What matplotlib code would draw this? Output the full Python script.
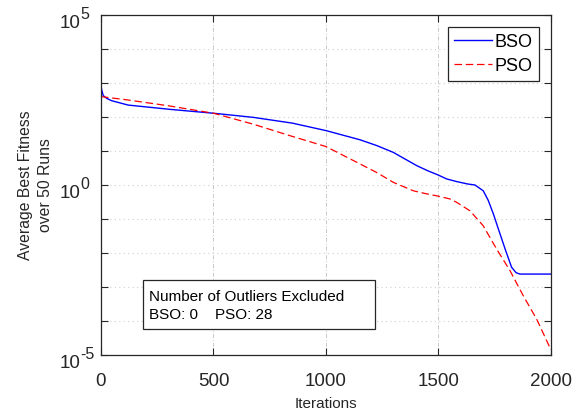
import matplotlib
matplotlib.use("Agg")
import matplotlib.pyplot as plt
from matplotlib.ticker import LogLocator, FixedLocator, NullFormatter
from matplotlib.patches import Rectangle

plt.rcParams.update({
    'font.family': ['Liberation Sans', 'DejaVu Sans'],
})

# data (iteration, average best fitness)
bso_iter = [0, 3, 10, 25, 47, 121, 314, 500, 676, 850, 1000, 1151, 1225, 1299, 1403,
            1452, 1500, 1536, 1581, 1630, 1662, 1699, 1721, 1744, 1766, 1796, 1825,
            1845, 1862, 2000]
bso_fit = [891, 631, 427, 355, 302, 224, 166, 129, 97.7, 66.1, 39.8, 21.4, 14.5, 9.12,
           3.72, 2.63, 1.95, 1.51, 1.26, 1.07, 1.00, 0.676, 0.355, 0.141, 0.0513,
           0.0132, 3.80e-3, 2.63e-3, 2.40e-3, 2.40e-3]

pso_iter = [0, 121, 299, 500, 676, 840, 1000, 1151, 1225, 1299, 1388, 1447, 1500, 1551,
            1581, 1640, 1699, 1758, 1818, 1877, 1936, 1988, 2000]
pso_fit = [398, 316, 214, 129, 61.7, 28.2, 13.5, 4.17, 2.34, 1.20, 0.676, 0.550, 0.468,
           0.389, 0.309, 0.174, 0.0631, 0.0132, 3.02e-3, 5.50e-4, 1.15e-4, 2.09e-5,
           1.41e-5]

x_ticks = [0, 500, 1000, 1500, 2000]
y_major = [1e-5, 1e0, 1e5]
y_exps = ['-5', '0', '5']
outlier_text = "Number of Outliers Excluded\nBSO: 0    PSO: 28"

fig = plt.figure(figsize=(5.79, 4.10), dpi=100)
ax = fig.add_axes([0.1744, 0.1317, 0.7772, 0.8293])

ax.plot(bso_iter, bso_fit, color='#0000FF', lw=1.0, label='BSO')
ax.plot(pso_iter, pso_fit, color='#FF0000', lw=0.9, dashes=(6, 3), label='PSO')

ax.set_yscale('log')
ax.set_xlim(0, 2000)
ax.set_ylim(1e-5, 1e5)

ax.xaxis.set_major_locator(FixedLocator(x_ticks))
ax.yaxis.set_major_locator(FixedLocator(y_major))
ax.yaxis.set_minor_locator(LogLocator(base=10, subs=[1.0], numticks=20))
ax.yaxis.set_minor_formatter(NullFormatter())
ax.yaxis.set_major_formatter(NullFormatter())

# MATLAB-like "10^n" labels with a large superscript
for v, e in zip(y_major, y_exps):
    ax.annotate('10', xy=(0, v), xycoords=('axes fraction', 'data'),
                xytext=(-41, -12), textcoords='offset pixels',
                ha='left', va='baseline', fontsize=13.5, color='#262626')
    ax.annotate(e, xy=(0, v), xycoords=('axes fraction', 'data'),
                xytext=(-21, -3), textcoords='offset pixels',
                ha='left', va='baseline', fontsize=11.5, color='#262626')

ax.tick_params(which='both', direction='in', top=True, right=True,
               colors='#262626', labelsize=13.5, width=0.8, length=5)
ax.tick_params(axis='x', pad=12)

ax.grid(True, axis='x', which='major', color='#c8c8c8', ls=(0, (4, 2, 1, 2)), lw=0.7)
ax.grid(True, axis='y', which='both', color='#d0d0d0', ls=(0, (1, 3)), lw=0.8)

for s in ax.spines.values():
    s.set_color('#262626')
    s.set_linewidth(0.9)

ax.set_xlabel('Iterations', fontsize=11, color='#262626', labelpad=5)
ax.set_ylabel('Average Best Fitness\nover 50 Runs', fontsize=11.3, color='#262626',
              linespacing=1.35)
ax.yaxis.set_label_coords(-0.1076, 0.503)

leg = ax.legend(loc='upper right', fontsize=13, handlelength=2.1, handletextpad=0.15,
                borderpad=0.35, labelspacing=0.4, borderaxespad=0.65, fancybox=False,
                framealpha=1.0, edgecolor='#262626')
leg.get_frame().set_linewidth(0.9)

box = Rectangle((0.094, 0.0765), 0.515, 0.144, transform=ax.transAxes,
                facecolor='white', edgecolor='#262626', lw=0.9, zorder=5)
ax.add_patch(box)
ax.text(0.107, 0.146, outlier_text, transform=ax.transAxes, fontsize=11,
        va='center', ha='left', linespacing=1.35, zorder=6, color='#000000')

fig.savefig('out.png', dpi=100)
